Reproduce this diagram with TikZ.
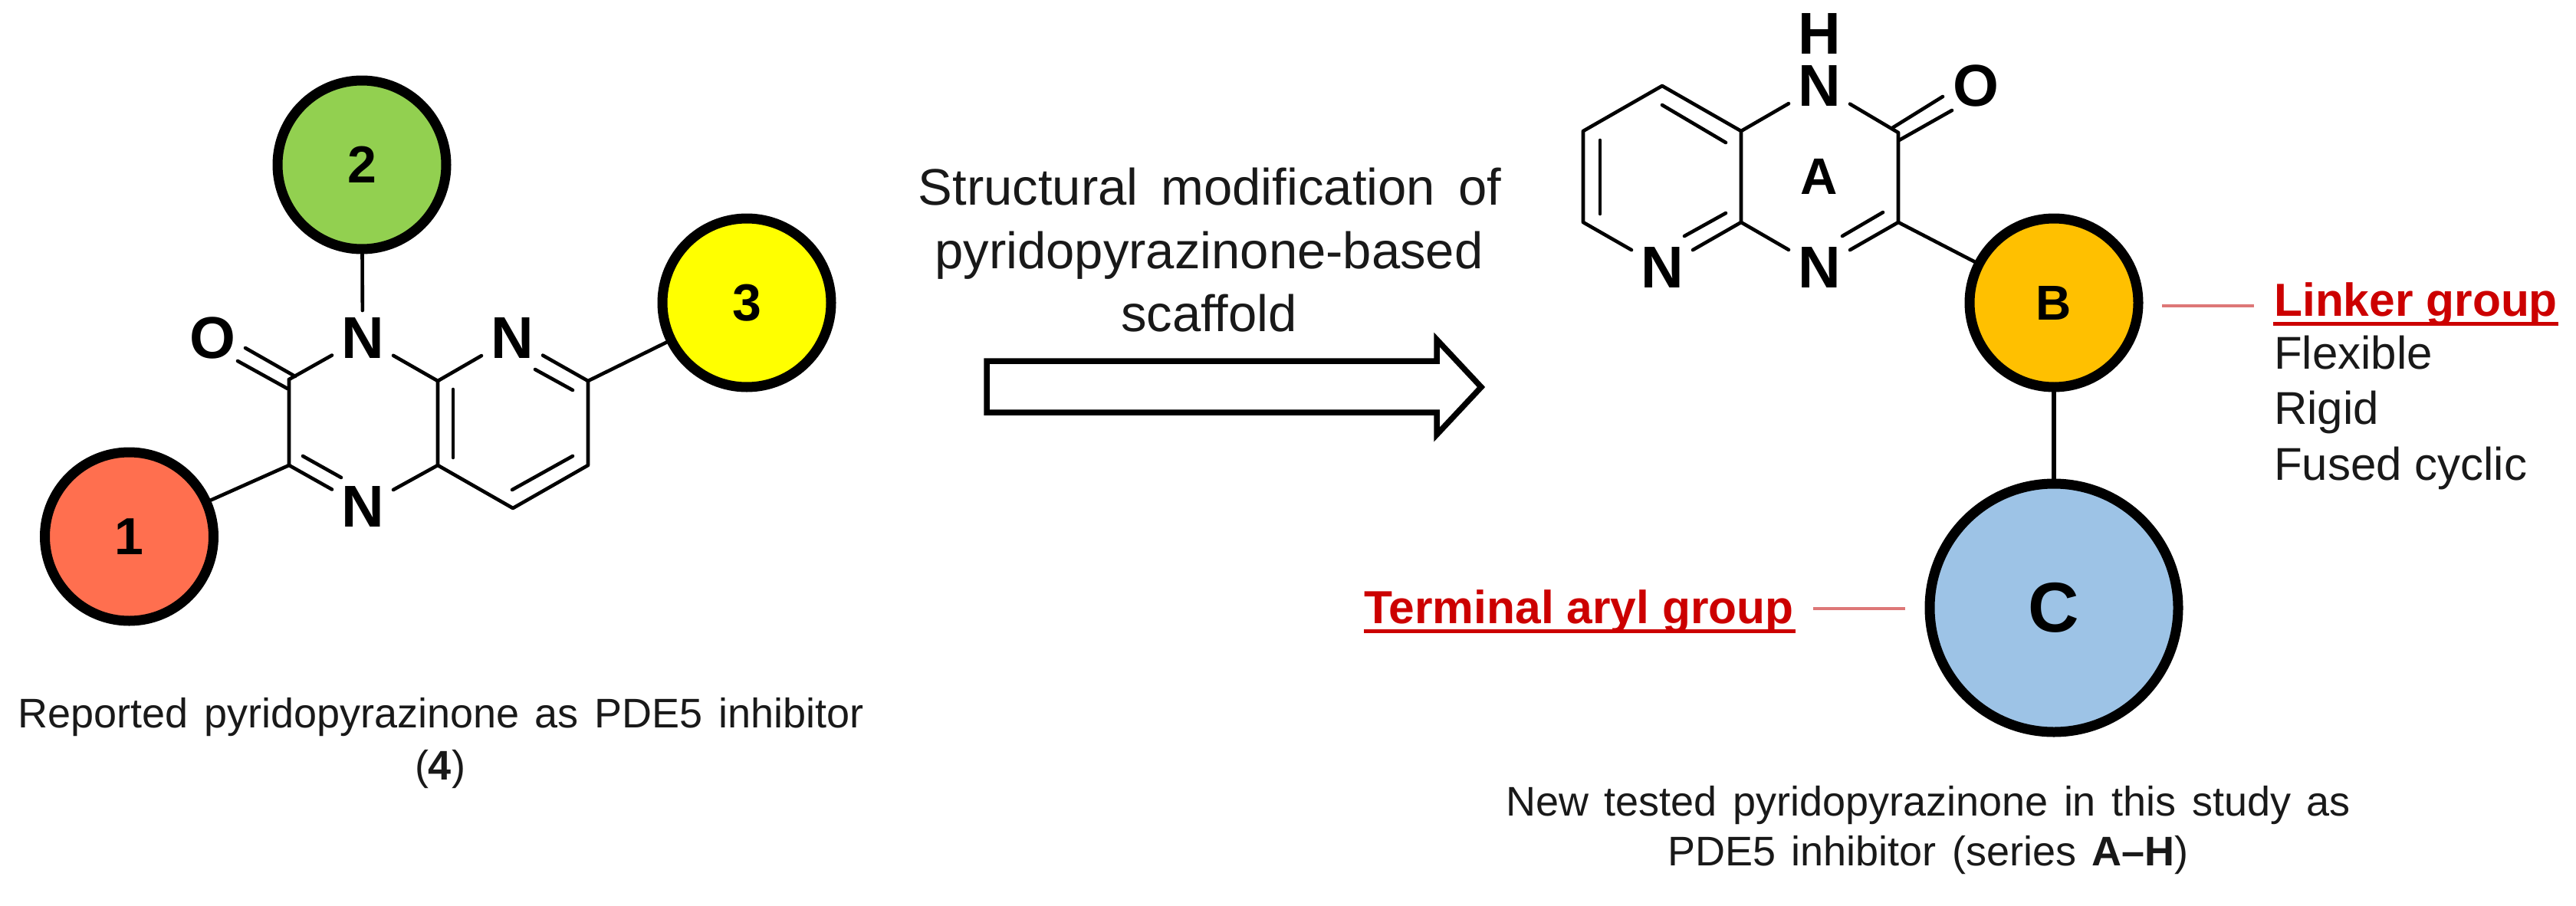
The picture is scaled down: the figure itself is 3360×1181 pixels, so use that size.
\documentclass[tikz,border=0pt]{standalone}
\usepackage{fontspec}
\setmainfont{Liberation Sans}
\definecolor{redc}{HTML}{FF6F4F}
\definecolor{greenc}{HTML}{92D050}
\definecolor{yellowc}{HTML}{FFFF00}
\definecolor{orangec}{HTML}{FFC000}
\definecolor{bluec}{HTML}{9DC3E6}
\definecolor{darkred}{HTML}{CC0000}
\definecolor{thinred}{HTML}{DD7777}
\newcommand\capfont{\fontsize{54}{54}\selectfont\spaceskip=.38em\relax}
\newcommand\midfont{\fontsize{67}{67}\selectfont\spaceskip=.45em\relax}
\tikzset{
  blob/.style={circle,draw=black,line width=13pt,inner sep=0pt,minimum size=#1,font=\fontsize{68}{68}\selectfont\bfseries},
  atom/.style={inner sep=0pt,outer sep=0pt,minimum width=80pt,minimum height=72pt,font=\fontsize{77}{77}\selectfont\bfseries,text=black},
  bond/.style={line width=4.6pt,line cap=round,black},
  lead/.style={line width=3.5pt,thinred},
  caption/.style={inner sep=0pt,anchor=base,font=\capfont,text=black!90},
  midtext/.style={inner sep=0pt,anchor=base,font=\midfont,text=black!90},
  head/.style={inner sep=0pt,font=\fontsize{60.5}{60.5}\selectfont\bfseries,text=darkred,anchor=base west},
  item/.style={inner sep=0pt,font=\fontsize{60}{60}\selectfont,text=black!90,anchor=base west},
  ulined/.style={line width=5pt,darkred},
}
\begin{document}
\begin{tikzpicture}[x=1pt,y=-1pt]
\useasboundingbox (0,0) rectangle (3360,1181);
% left molecule
\node[atom] (O1) at (277,441) {O};
\node[atom] (N1) at (473,441) {N};
\node[atom] (N2) at (668,441) {N};
\node[atom] (N3) at (473,661) {N};
\coordinate (c1) at (377,495);
\coordinate (c2) at (377,607);
\coordinate (c3) at (571,497);
\coordinate (c4) at (571,607);
\coordinate (c5) at (767,497);
\coordinate (c6) at (767,607);
\coordinate (c7) at (669,663);
\node[blob=220pt,fill=redc] (r1) at (168.5,700) {1};
\node[blob=220pt,fill=greenc] (r2) at (472,215) {2};
\node[blob=220pt,fill=yellowc] (r3) at (974,395) {3};
\draw[bond] (c1) -- (c2) (c3) -- (c4) (c5) -- (c6) (c6) -- (c7) (c7) -- (c4);
\draw[bond] (c1) -- (N1) (N1) -- (c3) (c3) -- (N2) (N2) -- (c5) (c2) -- (N3) (N3) -- (c4);
\draw[bond] (c2) -- (r1) (N1) -- (r2) (c5) -- (r3);
\draw[bond] (320,454) -- (385,491);
\draw[bond] (310,471) -- (375,507);
\draw[bond] (591,508) -- (591,597);
\draw[bond] (395,595) -- (445,623);
\draw[bond] (698,482) -- (747,509);
\draw[bond] (668,639) -- (747,595);
% right molecule
\node[atom,minimum height=60pt] (H) at (2373,44) {H};
\node[atom,minimum height=60pt] (Na) at (2373,112) {N};
\node[atom] (Ob) at (2577,112) {O};
\node[atom] (Nc) at (2373,349) {N};
\node[atom] (Nd) at (2168,349) {N};
\coordinate (d1) at (2476,173);
\coordinate (d2) at (2476,290);
\coordinate (d3) at (2271,290);
\coordinate (d4) at (2271,171);
\coordinate (d5) at (2168,112);
\coordinate (d6) at (2065,171);
\coordinate (d7) at (2065,290);
\node[inner sep=0pt,font=\fontsize{67}{67}\selectfont\bfseries] (A) at (2373,230) {A};
\node[blob=220pt,fill=orangec,font=\fontsize{64}{64}\selectfont\bfseries] (B) at (2679,395) {B};
\node[blob=324pt,fill=bluec,font=\fontsize{92}{92}\selectfont\bfseries] (C) at (2679,793) {C};
\draw[bond] (Na) -- (d1) (d1) -- (d2) (d2) -- (Nc) (Nc) -- (d3) (d3) -- (d4) (d4) -- (Na)
  (d4) -- (d5) (d5) -- (d6) (d6) -- (d7) (d7) -- (Nd) (Nd) -- (d3);
\draw[bond] (d2) -- (B);
\draw[bond,line width=6pt] (B) -- (C);
\draw[bond] (2468,167) -- (2534,126);
\draw[bond] (2477,183) -- (2546,144);
\draw[bond] (2168,137) -- (2251,186);
\draw[bond] (2087,183) -- (2087,279);
\draw[bond] (2197,308) -- (2251,278);
\draw[bond] (2403,308) -- (2456,277);
% labels and leaders
\node[head] (lk) at (2966,412) {Linker group};
\draw[ulined] (2965,422) -- (3337,422);
\node[item] (f1) at (2966,481) {Flexible};
\node[item] (f2) at (2966,553) {Rigid};
\node[item] (f3) at (2966,626) {Fused cyclic};
\node[head] (tg) at (1779,813) {Terminal aryl group};
\draw[ulined] (1779,823) -- (2342,823);
\coordinate (l1) at (2820,399);
\coordinate (l2) at (2940,399);
\coordinate (l3) at (2365,794);
\coordinate (l4) at (2485,794);
\draw[lead] (l1) -- (l2);
\draw[lead] (l3) -- (l4);
% arrow
\draw[line width=7.5pt,fill=white,line join=miter] (1287,471) -- (1874,471) -- (1874,443) -- (1932,505) -- (1874,567) -- (1874,538) -- (1287,538) -- cycle;
% captions
\node[midtext] (t1) at (1578,267) {Structural modification of};
\node[midtext] (t2) at (1577,350) {pyridopyrazinone-based};
\node[midtext] (t3) at (1577,432) {scaffold};
\node[caption] (c1a) at (575,949) {Reported pyridopyrazinone as PDE5 inhibitor};
\node[caption] (c1b) at (574,1017) {(\textbf{4})};
\node[caption] (c2a) at (2515,1064) {New tested pyridopyrazinone in this study as};
\node[caption] (c2b) at (2515,1129) {PDE5 inhibitor (series \textbf{A–H})};
\end{tikzpicture}
\end{document}
